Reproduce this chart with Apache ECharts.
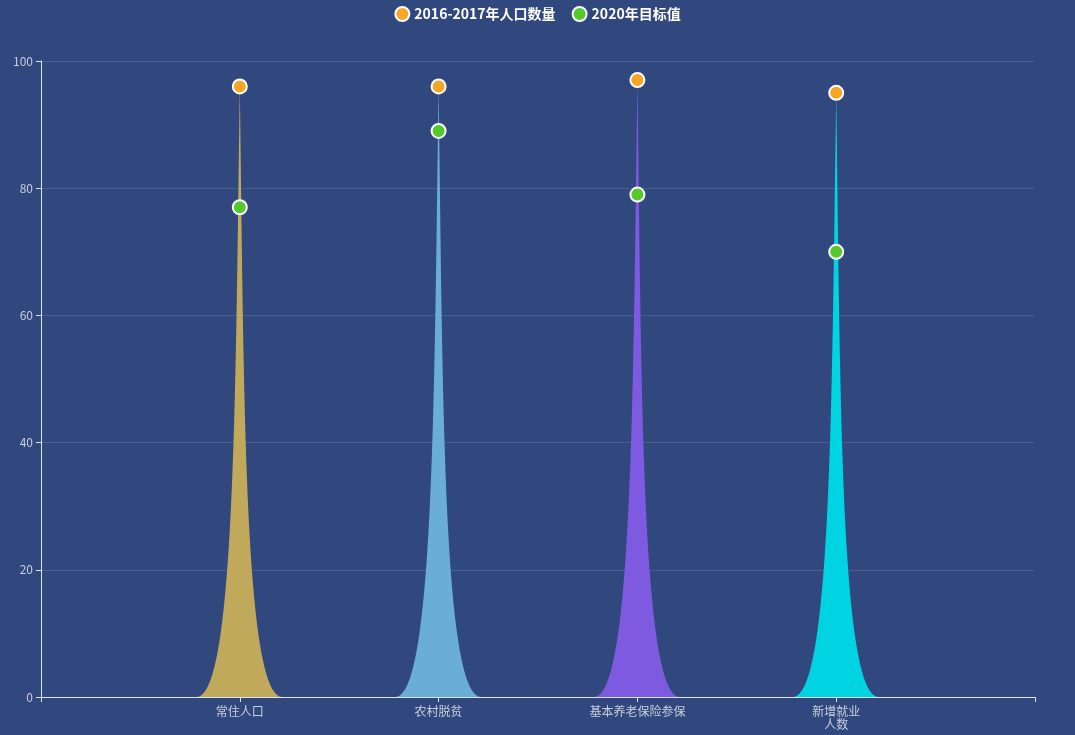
<!DOCTYPE html>
<html>
<head>
<meta charset="utf-8">
<script src="https://cdn.jsdelivr.net/npm/echarts@6/dist/echarts.min.js"></script>
<style>
html,body{margin:0;padding:0;background:#31487e;}
#main{width:1075px;height:735px;}
</style>
</head>
<body>
<div id="main"></div>
<script>
var categories = ['', '常住人口', '农村脱贫', '基本养老保险参保', '新增就业\n人数', ''];
var current = ['-', 96, 96, 97, 95, '-'];
var target = ['-', 77, 89, 79, 70, '-'];
var spikeColors = ['#c0a95a', '#c0a95a', '#6aaed8', '#7d5ae0', '#00d4e2', '#00d4e2'];
var yTicks = { min: 0, max: 100, interval: 20 };

var spikeData = current.map(function (v, i) {
  return { value: v, itemStyle: { color: spikeColors[i] } };
});

var chart = echarts.init(document.getElementById('main'), null, { renderer: 'canvas' });
chart.setOption({
  backgroundColor: '#31487e',
  textStyle: { fontFamily: '"Noto Sans CJK SC", "Noto Sans", sans-serif' },
  legend: {
    top: 1,
    left: 'center',
    icon: 'circle',
    itemWidth: 14,
    itemHeight: 14,
    itemGap: 16,
    textStyle: { color: '#ffffff', fontSize: 14, fontWeight: 'bold' },
    data: ['2016-2017年人口数量', '2020年目标值']
  },
  grid: { left: 41, right: 40, top: 61, bottom: 38 },
  xAxis: {
    type: 'category',
    boundaryGap: false,
    data: categories,
    axisLine: { lineStyle: { color: '#dfe3ee' } },
    axisTick: { lineStyle: { color: '#dfe3ee' } },
    axisLabel: { color: '#c9cedb', fontSize: 12, interval: 0, lineHeight: 13 },
    splitLine: { show: false }
  },
  yAxis: {
    type: 'value',
    min: yTicks.min,
    max: yTicks.max,
    interval: yTicks.interval,
    axisLine: { show: true, lineStyle: { color: '#dfe3ee' } },
    axisTick: { show: true, lineStyle: { color: '#dfe3ee' } },
    axisLabel: { color: '#c9cedb', fontSize: 12 },
    splitLine: { lineStyle: { color: 'rgba(255,255,255,0.12)' } }
  },
  series: [
    {
      name: 'spike',
      type: 'pictorialBar',
      symbol: 'path://M0,10 L10,10 C5.5,10 5.5,5 5,0 C4.5,5 4.5,10 0,10 z',
      barWidth: 86,
      symbolSize: ['100%', '100%'],
      silent: true,
      data: spikeData,
      z: 1
    },
    {
      name: '2016-2017年人口数量',
      type: 'scatter',
      symbol: 'circle',
      symbolSize: 14,
      itemStyle: { color: '#f7a623', borderColor: '#ffffff', borderWidth: 2, opacity: 1 },
      data: current,
      z: 5
    },
    {
      name: '2020年目标值',
      type: 'scatter',
      symbol: 'circle',
      symbolSize: 14,
      itemStyle: { color: '#55c82a', borderColor: '#ffffff', borderWidth: 2, opacity: 1 },
      data: target,
      z: 5
    }
  ]
});
</script>
</body>
</html>
